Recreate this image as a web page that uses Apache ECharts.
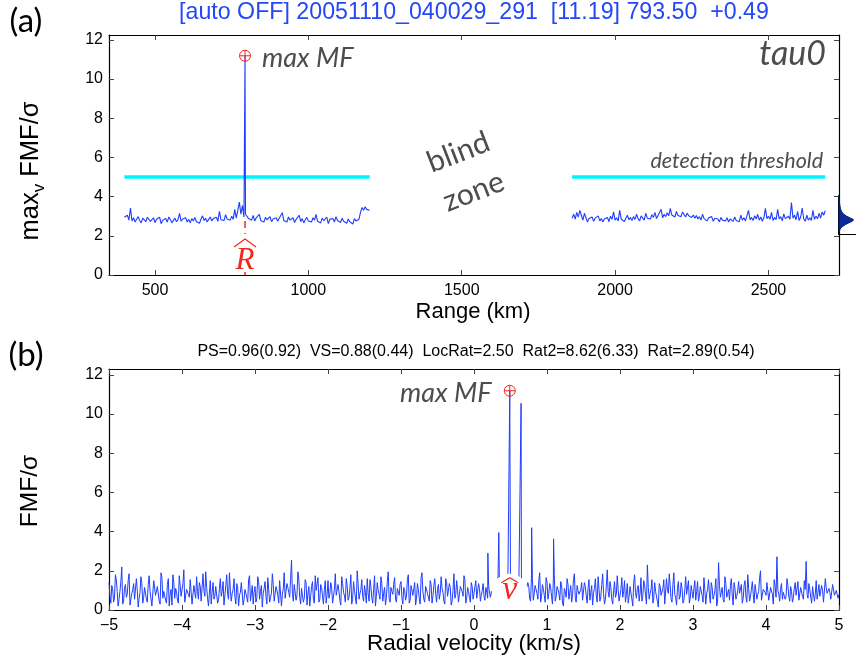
<!DOCTYPE html>
<html>
<head>
<meta charset="utf-8">
<script src="https://cdn.jsdelivr.net/npm/echarts@6/dist/echarts.min.js"></script>
<style>
  html, body { margin: 0; padding: 0; background: #fff; }
  #chart { width: 856px; height: 666px; }
</style>
</head>
<body>
<div id="chart"></div>
<script>
// ---- panel (a): max over velocity of FMF/sigma versus range ----
const rangeStep = 5;                 // km between range gates
const rangeLeftStart = 400;          // first gate before the blind zone
const rangeRightStart = 1860;        // first gate after the blind zone
const fmfRangeLeft = [
  2.95,2.88,3.05,2.80,3.42,2.75,2.92,2.70,2.85,2.98,2.78,2.66,2.90,2.82,2.72,2.95,2.86,2.74,2.80,2.92,
  2.68,2.85,2.77,2.95,2.62,2.80,2.73,2.88,2.70,2.96,2.84,2.66,2.79,2.90,2.72,2.83,3.15,2.74,2.86,2.78,
  2.92,2.70,2.84,2.66,2.88,2.76,2.94,2.72,2.81,2.64,2.86,3.02,2.78,2.90,2.70,2.84,2.96,2.76,2.88,2.80,
  2.95,2.74,3.25,2.82,2.90,2.78,3.08,2.86,2.92,2.80,3.00,2.84,3.35,2.90,2.98,3.72,3.10,3.55,2.95,3.10,
  3.12,2.88,2.96,2.80,3.04,2.76,2.92,2.84,3.10,2.78,2.88,2.70,2.94,2.82,2.76,2.98,2.72,2.86,2.80,2.92,
  2.74,2.90,2.82,3.18,2.78,2.86,2.70,2.96,2.80,2.74,2.92,2.68,2.84,2.78,3.05,2.72,2.88,2.66,2.82,2.94,
  2.76,2.86,2.70,2.92,2.80,3.10,2.74,2.84,2.66,2.90,2.78,2.72,2.96,2.62,2.84,2.76,2.88,2.70,2.98,2.78,
  2.84,2.68,2.90,2.74,2.80,2.64,2.86,2.72,2.78,2.60,2.88,2.76,2.70,2.85,3.20,3.45,3.30,3.48,3.35,3.42,
  3.30
];
const fmfRangeRight = [
  2.90,3.10,2.85,3.20,2.95,3.30,3.05,2.80,3.15,2.92,2.70,2.88,2.78,2.96,2.74,2.90,2.82,3.02,2.76,2.88,
  2.70,2.86,2.78,2.94,2.72,3.00,2.84,3.22,2.80,2.92,2.76,3.30,2.86,2.96,2.72,2.90,3.05,2.82,2.94,2.78,
  2.98,2.84,3.10,2.88,2.76,3.02,2.92,2.80,3.15,2.90,3.00,2.86,3.08,2.94,3.20,2.88,3.04,2.96,3.35,2.92,
  3.10,2.98,3.18,3.02,3.40,3.06,3.12,2.96,3.25,3.04,3.14,2.98,3.22,3.08,2.96,3.16,3.02,3.10,2.94,3.06,
  2.90,3.04,2.86,2.98,2.80,3.10,2.88,2.96,2.76,2.92,2.84,2.98,2.74,2.90,2.82,2.86,2.72,2.94,2.80,2.88,
  2.76,2.92,2.70,2.86,2.82,2.74,2.96,2.78,2.88,2.72,3.05,2.80,2.92,2.76,2.86,3.30,2.82,2.94,2.78,3.02,
  2.86,3.10,2.80,2.96,2.74,2.92,3.40,2.88,3.00,2.84,3.20,2.78,2.94,2.82,3.35,2.86,2.98,2.76,3.12,2.88,
  2.80,3.00,2.84,3.70,2.90,3.06,2.82,3.25,2.78,2.96,3.42,2.86,2.74,3.05,2.80,2.92,2.78,3.30,2.84,3.00,
  2.88,3.15,2.90,3.22,3.05,3.28
];
const peakRange = 793.5;             // km, R-hat
const peakValue = 11.19;             // max MF
const threshold = 5;                 // detection threshold
const rangeTicks = [500, 1000, 1500, 2000, 2500];
const fmfTicks = [0, 2, 4, 6, 8, 10, 12];

// noise distribution drawn beside panel (a)
const pdfLevels  = [4.05, 3.9, 3.75, 3.6, 3.45, 3.35, 3.25, 3.15, 3.05, 2.95, 2.88, 2.8, 2.72, 2.62, 2.52, 2.42, 2.32, 2.25];
const pdfDensity = [0, 0.02, 0.03, 0.05, 0.08, 0.12, 0.18, 0.28, 0.45, 0.68, 0.85, 0.8, 0.6, 0.38, 0.2, 0.09, 0.03, 0];

// ---- panel (b): FMF/sigma versus radial velocity at R-hat ----
const velStart = -5;
const velStep = 0.025;
// samples on the velocity grid
const fmfVelocity = [
  1.40,0.35,1.10,0.60,1.55,0.20,0.95,2.20,0.45,1.30,0.80,1.85,0.30,1.05,0.55,1.60,0.15,0.90,1.35,0.65,
  1.20,0.40,1.75,0.85,0.25,1.45,0.70,1.10,0.30,1.65,0.95,0.50,1.30,0.20,1.05,1.80,0.60,0.95,0.35,1.25,
  0.75,2.05,0.45,1.15,0.65,1.50,0.25,0.90,1.70,0.55,1.20,0.35,1.00,1.95,0.60,0.85,0.30,1.40,0.70,1.10,
  0.50,1.60,0.95,0.25,1.25,0.80,1.90,0.45,1.05,0.65,1.35,0.20,0.90,1.50,0.55,1.15,0.40,1.75,0.85,0.30,
  1.20,0.60,1.45,0.95,0.15,1.10,0.70,1.65,0.40,0.85,1.30,0.55,1.00,0.35,1.55,0.80,1.90,0.50,1.15,0.65,
  2.55,0.45,1.25,0.75,1.60,0.30,1.00,0.60,1.40,0.85,0.20,1.20,0.55,1.75,0.90,0.40,1.30,0.70,1.05,0.35,
  1.50,0.80,1.15,0.45,1.85,0.65,0.95,0.25,1.35,0.75,1.60,0.50,1.10,0.30,1.45,0.90,2.00,0.55,1.00,0.70,
  1.25,0.35,0.85,1.55,0.60,1.05,0.20,1.40,0.80,1.70,0.45,1.15,0.65,1.95,0.40,0.95,1.30,0.55,1.10,0.75,
  1.45,0.30,1.00,0.70,1.80,0.50,1.20,0.85,0.25,1.35,0.60,1.65,0.95,0.40,1.10,0.75,1.50,0.35,1.25,0.80,
  1.05,0.55,1.70,0.90,0.30,1.40,0.65,1.15,0.45,1.85,0.80,1.00,0.35,1.30,0.70,1.55,0.60,0.95,0.40,1.20,
  0.85,1.50,0.55,1.10,0.75,1.35,0.50,0.90,1.25,0.65,0.80,0.95,0.70,0.85,0.60,0.90,0.75,0.80,0.65,0.90,
  0.80,0.70,0.90,0.60,0.85,0.75,0.95,0.65,0.80,0.70,1.20,0.45,1.60,0.85,1.35,0.55,1.90,0.70,1.10,0.40,
  1.45,0.85,1.15,0.30,1.75,0.65,1.05,0.50,1.30,0.20,0.95,1.60,0.55,1.25,0.75,1.85,0.40,1.00,0.70,1.40,
  0.60,1.20,0.35,1.55,0.90,0.25,1.10,0.75,1.70,0.45,1.30,0.85,0.55,2.05,0.65,1.15,0.30,1.45,0.80,1.00,
  0.50,1.65,0.95,0.40,1.35,0.70,1.15,0.20,1.80,0.60,1.25,0.85,0.45,1.50,0.75,2.30,0.55,1.05,0.35,1.40,
  0.90,0.15,1.20,0.65,1.55,0.40,1.00,1.85,0.55,1.30,0.80,0.25,1.45,0.70,1.10,0.50,1.70,0.85,0.35,1.25,
  0.60,1.50,0.95,0.45,1.20,0.75,1.65,0.30,1.05,0.80,1.40,0.55,1.00,0.20,2.42,0.65,1.15,0.40,1.35,0.85,
  0.50,1.60,0.25,1.10,0.70,1.45,0.90,0.35,1.25,0.65,1.80,0.45,1.05,0.80,1.30,0.55,0.95,2.00,0.40,1.15,
  0.75,1.35,0.60,1.05,0.30,1.20,2.72,0.80,1.10,0.55,1.00,0.70,1.25,0.45,0.95,0.65,1.40,0.85,0.50,1.15,
  0.70,1.50,2.48,0.60,1.05,0.35,1.20,0.80,0.55,1.30,0.65,1.00,0.40,1.15,0.75,0.90,0.50,1.25,0.70,0.95,
  0.80
];
// samples half-way between grid points
const fmfVelocityMid = [
  0.70,1.25,0.40,1.80,0.95,0.55,1.45,0.30,1.10,0.65,1.50,0.25,0.85,1.35,0.45,1.00,0.60,1.70,0.35,1.15,
  0.55,1.30,0.95,0.20,1.50,0.75,1.20,0.45,1.90,0.60,1.05,0.35,1.60,0.80,0.25,1.40,1.10,0.50,1.75,0.70,
  1.35,0.40,1.05,0.80,1.55,0.30,1.25,0.60,0.95,1.40,0.45,1.85,0.70,1.15,0.20,1.50,0.90,0.55,1.20,0.35,
  1.10,0.70,1.45,0.35,1.80,0.55,1.00,0.85,1.60,0.30,1.15,0.75,1.40,0.25,1.05,0.65,1.55,0.45,1.25,0.90,
  0.40,1.70,0.55,1.25,0.85,1.45,0.30,1.05,0.65,1.85,0.45,1.20,0.75,1.50,0.20,1.10,0.60,1.35,0.90,1.60,
  0.85,1.30,0.50,1.95,0.65,1.10,0.40,1.55,0.25,1.20,0.70,1.45,0.35,1.00,1.65,0.55,1.15,0.30,1.50,0.80,
  0.60,1.40,0.35,1.05,0.75,1.30,0.50,1.70,0.90,0.40,1.25,0.65,1.80,0.55,1.00,0.30,1.35,0.85,1.55,0.45,
  0.90,1.60,0.45,1.20,0.35,1.75,0.70,1.00,0.55,1.35,0.85,0.25,1.45,0.60,1.15,0.80,1.65,0.40,1.05,1.30,
  0.65,1.15,0.50,1.55,0.35,1.25,0.75,1.40,0.60,1.05,0.30,1.90,0.55,1.20,0.85,0.45,1.30,0.70,1.60,0.40,
  1.30,0.85,1.10,0.45,1.60,0.70,1.35,0.25,1.00,0.60,1.50,0.40,1.20,0.95,1.75,0.35,1.15,0.65,1.40,0.55,
  1.20,0.60,1.35,0.45,1.00,0.70,1.15,0.60,0.85,0.95,0.70,0.90,0.80,0.75,0.95,0.65,0.85,0.70,0.90,0.80,
  0.75,0.85,0.65,0.90,0.70,0.80,0.85,0.75,0.90,1.40,0.60,1.75,0.50,1.25,0.85,1.50,0.40,1.30,0.75,1.65,
  0.55,1.35,0.70,1.60,0.45,1.20,0.85,1.45,0.35,1.10,0.65,1.30,0.90,0.40,1.55,0.60,1.25,0.80,1.05,0.50,
  1.40,0.75,1.10,0.50,1.25,0.85,1.60,0.40,1.05,0.70,1.85,0.30,1.20,0.95,1.45,0.55,1.00,0.65,1.75,0.45,
  1.05,0.65,1.50,0.80,0.35,1.20,0.55,1.40,0.90,1.10,0.45,1.65,0.70,1.25,0.30,1.15,0.85,1.55,0.60,0.95,
  0.45,1.35,0.75,1.10,0.30,1.60,0.85,1.25,0.40,1.90,0.65,1.15,0.55,1.40,0.35,1.05,0.80,1.50,0.60,1.20,
  1.10,0.50,1.45,0.70,1.30,0.40,1.00,0.85,1.55,0.35,1.15,0.75,1.60,0.45,1.25,0.90,0.55,1.70,0.65,1.05,
  1.25,0.75,1.40,0.55,1.00,0.85,1.30,0.60,1.50,0.40,1.10,0.70,1.45,0.35,1.20,0.80,1.65,0.50,1.05,0.90,
  1.40,0.50,1.15,0.80,1.55,0.65,1.00,0.45,1.35,0.90,0.55,1.60,0.70,1.20,0.40,1.10,0.75,1.45,0.60,1.25,
  0.55,1.05,0.80,1.35,0.65,1.20,0.45,1.50,0.90,0.70,1.25,0.40,1.60,0.85,1.10,0.55,1.30,0.75,1.00,0.60
];
// narrow responses around the detected velocity
const spikeVel = [0.19, 0.34, 0.49, 0.645, 0.79, 1.09];
const spikeVal = [2.9, 3.95, 11.19, 10.55, 4.2, 3.63];
const peakVel = 0.49;                // v-hat
const velTicks = [-5, -4, -3, -2, -1, 0, 1, 2, 3, 4, 5];

// ---- build series data ----
const byX = (a, b) => a[0] - b[0];
const leftData = fmfRangeLeft.map((v, i) => [rangeLeftStart + i * rangeStep, v]);
leftData.push([peakRange, peakValue]);
leftData.sort(byX);
const rightData = fmfRangeRight.map((v, i) => [rangeRightStart + i * rangeStep, v]);
const leftEnd = leftData[leftData.length - 1][0];
const rightEnd = rightData[rightData.length - 1][0];

const velData = fmfVelocity.map((v, i) => [+(velStart + i * velStep).toFixed(4), v]);
fmfVelocityMid.forEach((v, i) => velData.push([+(velStart + (i + 0.5) * velStep).toFixed(4), v]));
spikeVel.forEach((x, i) => velData.push([x, spikeVal[i]]));
velData.sort(byX);

const BLUE = '#1f3dff';
const CYAN = '#00f4ff';
const RED = '#f0281e';
const GREY = '#4d4d4d';
const SANS = '"Liberation Sans", Arial, Helvetica, sans-serif';
const HUMAN = 'Lato, "Open Sans", sans-serif';
const SERIF = '"Liberation Serif", "DejaVu Serif", serif';

const plusCircle = 'path://M0,-10A10,10 0 1,1 0,10A10,10 0 1,1 0,-10ZM-10,0L10,0M0,-10L0,10';

function boxX(grid, min, max, ticks, bottom, fmt) {
  return {
    type: 'value', gridIndex: grid, min: min, max: max,
    position: bottom ? 'bottom' : 'top',
    axisLine: { show: true, onZero: false, lineStyle: { color: '#000', width: 1.2 } },
    axisTick: { show: true, inside: true, length: 5, customValues: ticks, lineStyle: { color: '#444' } },
    axisLabel: {
      show: bottom, customValues: ticks, margin: 8, fontSize: 16, color: '#000', fontFamily: SANS,
      formatter: fmt || (v => String(v))
    },
    splitLine: { show: false }
  };
}
function boxY(grid, min, max, ticks, left) {
  return {
    type: 'value', gridIndex: grid, min: min, max: max,
    position: left ? 'left' : 'right',
    axisLine: { show: true, onZero: false, lineStyle: { color: '#000', width: 1.2 } },
    axisTick: { show: true, inside: true, length: 5, customValues: ticks, lineStyle: { color: '#444' } },
    axisLabel: { show: left, customValues: ticks, margin: 6, fontSize: 16, color: '#000', fontFamily: SANS },
    splitLine: { show: false }
  };
}
const minusFmt = v => String(v).replace('-', '\u2212');

// estimate label with a circumflex hat, anchored on a data point
function hatLabel(letter, opt) {
  return function (params, api) {
    const p = api.coord([api.value(0), api.value(1)]);
    const bg = opt.circle
      ? { type: 'circle', shape: { cx: p[0], cy: p[1], r: opt.r }, style: { fill: '#fff' } }
      : { type: 'rect', shape: { x: p[0] - opt.w / 2, y: p[1] - opt.h / 2, width: opt.w, height: opt.h }, style: { fill: '#fff' } };
    return {
      type: 'group',
      children: [
        bg,
        { type: 'text', x: p[0], y: p[1] + opt.dy,
          style: { text: letter, fontFamily: SERIF, fontStyle: 'italic', fontSize: opt.size,
                   fill: RED, align: 'center', verticalAlign: 'middle' } },
        { type: 'polyline',
          shape: { points: [[p[0] - opt.hw, p[1] + opt.hEnd], [p[0], p[1] + opt.hTop], [p[0] + opt.hw, p[1] + opt.hEnd]] },
          style: { stroke: RED, lineWidth: 1.2, fill: null } }
      ]
    };
  };
}

function text(x, y, str, style, extra) {
  return Object.assign({
    type: 'text', x: x, y: y, silent: true,
    style: Object.assign({ text: str, align: 'center', verticalAlign: 'middle', fill: '#000' }, style)
  }, extra || {});
}

const chart = echarts.init(document.getElementById('chart'), null, { renderer: 'canvas' });
chart.setOption({
  animation: false,
  backgroundColor: '#fff',
  grid: [
    { left: 109, top: 35, width: 730, height: 240 },
    { left: 109, top: 369, width: 730, height: 241 },
    { left: 839, top: 196, width: 30, height: 38 }
  ],
  xAxis: [
    boxX(0, 350, 2730, rangeTicks, true),
    boxX(0, 350, 2730, rangeTicks, false),
    boxX(1, -5, 5, velTicks, true, minusFmt),
    boxX(1, -5, 5, velTicks, false),
    { type: 'value', gridIndex: 2, min: 0, max: 1, position: 'bottom',
      axisLine: { show: true, onZero: false, lineStyle: { color: '#000', width: 1 } },
      axisTick: { show: false }, axisLabel: { show: false }, splitLine: { show: false } }
  ],
  yAxis: [
    boxY(0, 0, 12.25, fmfTicks, true),
    boxY(0, 0, 12.25, fmfTicks, false),
    boxY(1, 0, 12.3, fmfTicks, true),
    boxY(1, 0, 12.3, fmfTicks, false),
    { type: 'value', gridIndex: 2, min: 2.14, max: 4.08, position: 'left',
      axisLine: { show: true, onZero: false, lineStyle: { color: '#000', width: 2 } },
      axisTick: { show: false }, axisLabel: { show: false }, splitLine: { show: false } }
  ],
  series: [
    // detection threshold on both sides of the blind zone
    { type: 'line', xAxisIndex: 0, yAxisIndex: 0, showSymbol: false, silent: true,
      data: [[rangeLeftStart, threshold], [leftEnd, threshold]],
      lineStyle: { color: CYAN, width: 3.5 }, z: 2 },
    { type: 'line', xAxisIndex: 0, yAxisIndex: 0, showSymbol: false, silent: true,
      data: [[rangeRightStart, threshold], [rightEnd, threshold]],
      lineStyle: { color: CYAN, width: 3.5 }, z: 2 },
    // max_v FMF/sigma traces
    { type: 'line', xAxisIndex: 0, yAxisIndex: 0, showSymbol: false, silent: true,
      data: leftData, lineStyle: { color: BLUE, width: 1.1 }, z: 3 },
    { type: 'line', xAxisIndex: 0, yAxisIndex: 0, showSymbol: false, silent: true,
      data: rightData, lineStyle: { color: BLUE, width: 1.1 }, z: 3 },
    // R-hat marker line and its label
    { type: 'line', xAxisIndex: 0, yAxisIndex: 0, showSymbol: false, silent: true,
      data: [[peakRange, 2.75], [peakRange, 0]],
      lineStyle: { color: RED, width: 1.5, type: [7, 5] }, z: 4 },
    { type: 'custom', xAxisIndex: 0, yAxisIndex: 0, silent: true, z: 5,
      data: [[peakRange, 1.12]],
      renderItem: hatLabel('R', { w: 30, h: 38, size: 31, dy: 8, hw: 11, hTop: -14, hEnd: -6 }) },
    { type: 'scatter', xAxisIndex: 0, yAxisIndex: 0, silent: true,
      data: [[peakRange, peakValue]], symbol: plusCircle, symbolSize: 11,
      itemStyle: { color: 'rgba(0,0,0,0)', borderColor: RED, borderWidth: 1, opacity: 1 }, z: 6 },

    // panel (b)
    { type: 'line', xAxisIndex: 2, yAxisIndex: 2, showSymbol: false, silent: true, sampling: null,
      data: velData, lineStyle: { color: BLUE, width: 1 }, z: 3 },
    { type: 'custom', xAxisIndex: 2, yAxisIndex: 2, silent: true, z: 5,
      data: [[peakVel, 0.93]],
      renderItem: hatLabel('v', { circle: true, r: 18, size: 33, dy: -1, hw: 8.5, hTop: -14, hEnd: -9 }) },
    { type: 'scatter', xAxisIndex: 2, yAxisIndex: 2, silent: true,
      data: [[peakVel, peakValue]], symbol: plusCircle, symbolSize: 11,
      itemStyle: { color: 'rgba(0,0,0,0)', borderColor: RED, borderWidth: 1, opacity: 1 }, z: 6 },

    // noise distribution beside panel (a)
    { type: 'custom', xAxisIndex: 4, yAxisIndex: 4, silent: true,
      data: pdfLevels.map((y, i) => [pdfDensity[i], y]),
      renderItem: function (params, api) {
        if (params.dataIndex !== 0) return null;
        const pts = pdfLevels.map((y, i) => api.coord([pdfDensity[i], y]));
        return { type: 'polygon', shape: { points: pts },
          style: { fill: '#0c2a9c', stroke: '#071a66', lineWidth: 1 } };
      }, z: 2 }
  ],
  graphic: [
    text(26, 21, '(a)', { fontSize: 33, fontFamily: HUMAN }),
    text(26, 355, '(b)', { fontSize: 33, fontFamily: HUMAN }),
    text(474, 13, '[auto OFF] 20051110_040029_291  [11.19] 793.50  +0.49',
      { fontSize: 23.2, fontFamily: SANS, fill: '#2448f5' }),
    text(476, 352, 'PS=0.96(0.92)  VS=0.88(0.44)  LocRat=2.50  Rat2=8.62(6.33)  Rat=2.89(0.54)',
      { fontSize: 16, fontFamily: SANS }),
    text(473, 312, 'Range (km)', { fontSize: 22, fontFamily: SANS }),
    text(474, 644, 'Radial velocity (km/s)', { fontSize: 22.5, fontFamily: SANS }),
    text(32, 171, '{m|max}{s|v}{m| FMF/\u03C3}', {
      fontFamily: SANS,
      rich: {
        m: { fontSize: 25.5, fontFamily: SANS, verticalAlign: 'top', lineHeight: 29 },
        s: { fontSize: 17, fontFamily: SANS, verticalAlign: 'top', lineHeight: 18, padding: [13, 0, 0, 0] }
      }
    }, { rotation: Math.PI / 2 }),
    text(30, 491, 'FMF/\u03C3', { fontSize: 24.5, fontFamily: SANS }, { rotation: Math.PI / 2 }),
    text(262, 58, 'max MF', { fontSize: 27, fontFamily: HUMAN, fontStyle: 'italic', fill: GREY, align: 'left' }),
    text(826, 54, 'tau0', { fontSize: 34, fontFamily: HUMAN, fontStyle: 'italic', fill: GREY, align: 'right' }),
    text(823, 161, 'detection threshold', { fontSize: 21.5, fontFamily: HUMAN, fontStyle: 'italic', fill: GREY, align: 'right' }),
    text(466, 172, 'blind\nzone', { fontSize: 30, fontFamily: HUMAN, fill: GREY, lineHeight: 42 }, { rotation: 0.37 }),
    text(400, 393, 'max MF', { fontSize: 27, fontFamily: HUMAN, fontStyle: 'italic', fill: GREY, align: 'left' })
  ]
});
</script>
</body>
</html>
